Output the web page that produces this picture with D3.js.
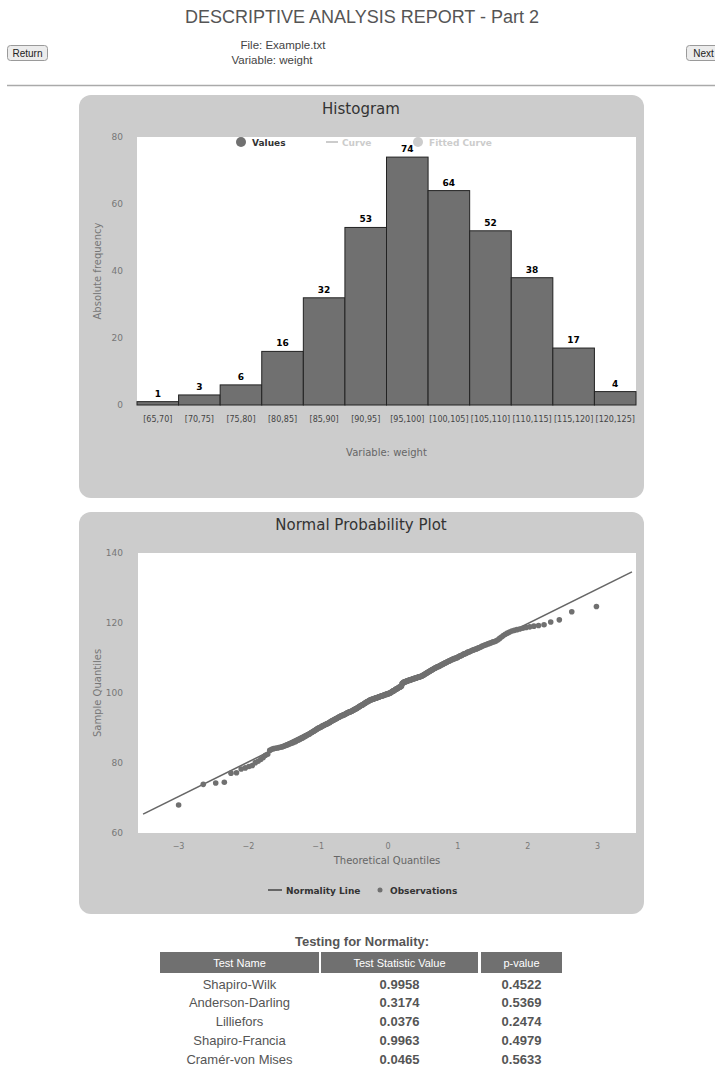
<!DOCTYPE html>
<html>
<head>
<meta charset="utf-8">
<script src="https://cdn.jsdelivr.net/npm/d3@7"></script>
<style>
  body { margin: 0; background: #fff; }
  svg text { font-family: "DejaVu Sans", sans-serif; }
  .arial { font-family: "Liberation Sans", Arial, sans-serif !important; }
</style>
</head>
<body>
<svg id="page" width="715" height="1069"></svg>
<script>
// histogram data
var binLabels = ["[65,70]", "[70,75]", "[75,80]", "[80,85]", "[85,90]", "[90,95]",
  "[95,100]", "[100,105]", "[105,110]", "[110,115]", "[115,120]", "[120,125]"];
var binCounts = [1, 3, 6, 16, 32, 53, 74, 64, 52, 38, 17, 4];
var freqTicks = [0, 20, 40, 60, 80];

// sorted sample (weight)
var sampleValues = [
  68.0,
  73.9, 74.3, 74.5,
  77.1, 77.2, 78.3, 78.6, 79.0, 79.3,
  80.1, 80.5, 81.0, 81.6, 82.2, 82.5, 83.6, 83.9, 84.1, 84.2, 84.3, 84.4, 84.5, 84.6, 84.8, 84.9,
  85.1, 85.2, 85.4, 85.5, 85.7, 85.8, 86.0, 86.1, 86.3, 86.5, 86.6, 86.8, 86.9, 87.1, 87.2, 87.4,
  87.6, 87.7, 87.9, 88.0, 88.2, 88.3, 88.5, 88.7, 88.8, 89.0, 89.1, 89.3, 89.4, 89.6, 89.7, 89.9,
  90.0, 90.1, 90.2, 90.3, 90.5, 90.6, 90.7, 90.8, 90.9, 91.0, 91.1, 91.2, 91.3, 91.4, 91.5, 91.6, 91.8,
  91.9, 92.0, 92.1, 92.2, 92.3, 92.4, 92.5, 92.6, 92.7, 92.8, 92.9, 93.0, 93.1, 93.2, 93.3, 93.4,
  93.5, 93.5, 93.6, 93.7, 93.8, 93.8, 93.9,
  94.0, 94.1, 94.2, 94.3, 94.4, 94.4, 94.5, 94.6, 94.6, 94.7, 94.8, 94.8, 94.9,
  95.0, 95.1, 95.2, 95.3, 95.4, 95.4, 95.5, 95.6, 95.7, 95.8, 95.9, 96.0, 96.1, 96.2, 96.3, 96.4,
  96.5, 96.5, 96.6, 96.7, 96.8, 96.9, 97.0, 97.1, 97.2, 97.3, 97.4, 97.5, 97.5, 97.6, 97.7, 97.8, 97.9, 98.0,
  98.0, 98.1, 98.1, 98.2, 98.2, 98.3, 98.3, 98.4, 98.4, 98.5, 98.5, 98.6, 98.6, 98.7, 98.7, 98.8,
  98.8, 98.9, 98.9, 99.0, 99.0, 99.1, 99.1, 99.2, 99.2, 99.3, 99.3, 99.4, 99.4, 99.5, 99.5, 99.6,
  99.6, 99.7, 99.7, 99.8, 99.8, 99.9, 99.9, 99.9,
  100.0, 100.1, 100.2, 100.3, 100.4, 100.5, 100.6, 100.6, 100.7, 100.8, 100.9, 101.0, 101.1, 101.2,
  101.2, 101.3, 101.4, 101.5, 101.6, 101.7, 101.7, 101.8, 101.9, 101.9,
  102.6, 102.8, 102.9, 103.0, 103.1, 103.2, 103.2, 103.3, 103.3, 103.4, 103.4, 103.5, 103.5, 103.6,
  103.6, 103.7, 103.7, 103.8, 103.8, 103.9, 103.9, 104.0, 104.0, 104.1, 104.1, 104.2, 104.2, 104.3,
  104.3, 104.4, 104.4, 104.5, 104.5, 104.6, 104.6, 104.7, 104.7, 104.8, 104.8, 104.9,
  105.0, 105.1, 105.2, 105.3, 105.4, 105.5, 105.6, 105.7, 105.8, 105.9, 106.0, 106.1, 106.2, 106.3,
  106.4, 106.5, 106.6, 106.7, 106.8, 106.9, 107.0, 107.1, 107.2, 107.3, 107.4, 107.5, 107.5, 107.6,
  107.7, 107.8, 107.9, 108.0, 108.1, 108.2, 108.3, 108.4, 108.5, 108.6, 108.7, 108.8, 108.9, 109.0,
  109.1, 109.2, 109.3, 109.4, 109.5, 109.6, 109.7, 109.8, 109.9, 109.9,
  110.0, 110.1, 110.2, 110.4, 110.5, 110.6, 110.7, 110.8, 111.0, 111.1, 111.2, 111.3, 111.4, 111.6,
  111.7, 111.8, 111.9, 112.0, 112.2, 112.3, 112.4, 112.5, 112.6, 112.8, 112.9, 113.0,
  113.2, 113.4, 113.5, 113.7, 113.8, 114.0, 114.1, 114.3, 114.4, 114.6, 114.7, 114.9,
  115.2, 115.6, 116.0, 116.4, 116.8, 117.1, 117.4, 117.7, 117.9, 118.1, 118.3, 118.5, 118.7, 118.9,
  119.1, 119.3, 119.5,
  120.3, 120.9, 123.2, 124.7
];
var qqXTicks = [-3, -2, -1, 0, 1, 2, 3];
var qqYTicks = [60, 80, 100, 120, 140];
// ends of the normality line (theoretical, sample)
var normLine = [{x: -3.5, y: 65.4}, {x: 3.5, y: 134.6}];

// normality tests table
var testNames = ["Shapiro-Wilk", "Anderson-Darling", "Lilliefors", "Shapiro-Francia", "Cramér-von Mises"];
var testStats = ["0.9958", "0.3174", "0.0376", "0.9963", "0.0465"];
var testPvalues = ["0.4522", "0.5369", "0.2474", "0.4979", "0.5633"];
var tableHeads = ["Test Name", "Test Statistic Value", "p-value"];

// inverse normal cdf (Acklam), for the theoretical quantiles
function qnorm(p) {
  var a = [-39.69683028665376, 220.9460984245205, -275.9285104469687, 138.3577518672690, -30.66479806614716, 2.506628277459239];
  var b = [-54.47609879822406, 161.5858368580409, -155.6989798598866, 66.80131188771972, -13.28068155288572];
  var c = [-0.007784894002430293, -0.3223964580411365, -2.400758277161838, -2.549732539343734, 4.374664141464968, 2.938163982698783];
  var d = [0.007784695709041462, 0.3224671290700398, 2.445134137142996, 3.754408661907416];
  var q, r;
  if (p < 0.02425) {
    q = Math.sqrt(-2 * Math.log(p));
    return (((((c[0]*q+c[1])*q+c[2])*q+c[3])*q+c[4])*q+c[5]) / ((((d[0]*q+d[1])*q+d[2])*q+d[3])*q+1);
  } else if (p > 1 - 0.02425) {
    q = Math.sqrt(-2 * Math.log(1 - p));
    return -(((((c[0]*q+c[1])*q+c[2])*q+c[3])*q+c[4])*q+c[5]) / ((((d[0]*q+d[1])*q+d[2])*q+d[3])*q+1);
  }
  q = p - 0.5; r = q * q;
  return (((((a[0]*r+a[1])*r+a[2])*r+a[3])*r+a[4])*r+a[5])*q / (((((b[0]*r+b[1])*r+b[2])*r+b[3])*r+b[4])*r+1);
}

var svg = d3.select("#page");

// ---- page header ----
svg.append("text").attr("class", "arial")
  .attr("x", 362).attr("y", 23).attr("text-anchor", "middle")
  .style("font-size", "18px").attr("fill", "#555")
  .text("DESCRIPTIVE ANALYSIS REPORT - Part 2");

function button(x, w, label) {
  svg.append("rect").attr("x", x).attr("y", 45.5).attr("width", w).attr("height", 15)
    .attr("rx", 3).attr("fill", "#ececec").attr("stroke", "#9a9a9a");
  svg.append("text").attr("class", "arial")
    .attr("x", x + w / 2).attr("y", 57).attr("text-anchor", "middle")
    .style("font-size", "10px").attr("fill", "#222").text(label);
}
button(7.5, 40, "Return");
button(686.5, 34, "Next");

svg.append("text").attr("class", "arial").attr("x", 283).attr("y", 49)
  .attr("text-anchor", "middle").style("font-size", "11.5px").attr("fill", "#444")
  .text("File: Example.txt");
svg.append("text").attr("class", "arial").attr("x", 272).attr("y", 64)
  .attr("text-anchor", "middle").style("font-size", "11.5px").attr("fill", "#444")
  .text("Variable: weight");

svg.append("line").attr("x1", 7).attr("x2", 715).attr("y1", 85.5).attr("y2", 85.5)
  .attr("stroke", "#aaa").attr("stroke-width", 1.5);

// ---- histogram ----
var hist = svg.append("g");
hist.append("rect").attr("x", 79).attr("y", 95).attr("width", 565).attr("height", 403)
  .attr("rx", 12).attr("fill", "#cccccc");
hist.append("text").attr("x", 361).attr("y", 114).attr("text-anchor", "middle")
  .style("font-size", "15px").attr("fill", "#333").text("Histogram");

var hx = d3.scaleBand().domain(binLabels).range([137, 636]).padding(0);
var hy = d3.scaleLinear().domain([0, 80]).range([405, 137]);

hist.append("rect").attr("x", 137).attr("y", 137).attr("width", 499).attr("height", 268)
  .attr("fill", "#fff");

var hyAxis = hist.append("g").attr("transform", "translate(126,0)")
  .call(d3.axisLeft(hy).tickValues(freqTicks).tickSize(0));
hyAxis.select(".domain").remove();
hyAxis.selectAll("text").attr("fill", "#777").style("font-size", "9px")
  .style("font-family", "DejaVu Sans");

var hxAxis = hist.append("g").attr("transform", "translate(0,413)")
  .call(d3.axisBottom(hx).tickSize(0));
hxAxis.select(".domain").remove();
hxAxis.selectAll("text").attr("fill", "#444").style("font-size", "8px")
  .style("font-family", "DejaVu Sans");

hist.append("text").attr("transform", "translate(101,271) rotate(-90)")
  .attr("text-anchor", "middle").style("font-size", "10px").attr("fill", "#777")
  .text("Absolute frequency");
hist.append("text").attr("x", 386.5).attr("y", 456).attr("text-anchor", "middle")
  .style("font-size", "10px").attr("fill", "#666").text("Variable: weight");

hist.selectAll(".bar").data(binCounts).enter().append("rect")
  .attr("class", "bar")
  .attr("x", function(d, i) { return hx(binLabels[i]); })
  .attr("y", function(d) { return hy(d); })
  .attr("width", hx.bandwidth())
  .attr("height", function(d) { return hy(0) - hy(d); })
  .attr("fill", "#707070").attr("stroke", "#222").attr("stroke-width", 1);

hist.selectAll(".lbl").data(binCounts).enter().append("text")
  .attr("class", "lbl")
  .attr("x", function(d, i) { return hx(binLabels[i]) + hx.bandwidth() / 2; })
  .attr("y", function(d) { return hy(d) - 5; })
  .attr("text-anchor", "middle").style("font-size", "9px").style("font-weight", "bold")
  .attr("fill", "#000").text(function(d) { return d; });

// legend
hist.append("circle").attr("cx", 241).attr("cy", 142).attr("r", 5).attr("fill", "#707070");
hist.append("text").attr("x", 252).attr("y", 145.5).style("font-size", "9px")
  .style("font-weight", "bold").attr("fill", "#333").text("Values");
hist.append("line").attr("x1", 326).attr("x2", 338).attr("y1", 142).attr("y2", 142)
  .attr("stroke", "#ccc").attr("stroke-width", 2);
hist.append("text").attr("x", 342).attr("y", 145.5).style("font-size", "9px")
  .style("font-weight", "bold").attr("fill", "#ccc").text("Curve");
hist.append("circle").attr("cx", 418).attr("cy", 142).attr("r", 5).attr("fill", "#ccc");
hist.append("text").attr("x", 429).attr("y", 145.5).style("font-size", "9px")
  .style("font-weight", "bold").attr("fill", "#ccc").text("Fitted Curve");

// ---- normal probability plot ----
var qq = svg.append("g");
qq.append("rect").attr("x", 79).attr("y", 512).attr("width", 565).attr("height", 402)
  .attr("rx", 12).attr("fill", "#cccccc");
qq.append("text").attr("x", 361).attr("y", 530).attr("text-anchor", "middle")
  .style("font-size", "15px").attr("fill", "#333").text("Normal Probability Plot");

var qx = d3.scaleLinear().domain([-3.573, 3.558]).range([138, 636]);
var qy = d3.scaleLinear().domain([60, 140]).range([833, 553]);

qq.append("rect").attr("x", 138).attr("y", 553).attr("width", 498).attr("height", 280)
  .attr("fill", "#fff");

var qyAxis = qq.append("g").attr("transform", "translate(126,0)")
  .call(d3.axisLeft(qy).tickValues(qqYTicks).tickSize(0));
qyAxis.select(".domain").remove();
qyAxis.selectAll("text").attr("fill", "#777").style("font-size", "9px")
  .style("font-family", "DejaVu Sans");

var qxAxis = qq.append("g").attr("transform", "translate(0,840)")
  .call(d3.axisBottom(qx).tickValues(qqXTicks).tickSize(0));
qxAxis.select(".domain").remove();
qxAxis.selectAll("text").attr("fill", "#777").style("font-size", "8px")
  .style("font-family", "DejaVu Sans");

qq.append("text").attr("transform", "translate(101,693) rotate(-90)")
  .attr("text-anchor", "middle").style("font-size", "10px").attr("fill", "#777")
  .text("Sample Quantiles");
qq.append("text").attr("x", 387).attr("y", 864).attr("text-anchor", "middle")
  .style("font-size", "10px").attr("fill", "#666").text("Theoretical Quantiles");

var n = sampleValues.length;
var qqPoints = sampleValues.map(function(v, i) {
  return {x: qnorm((i + 0.5) / n), y: v};
});

var lineFunc = d3.line()
  .x(function(d) { return qx(d.x); })
  .y(function(d) { return qy(d.y); });

qq.append("path").attr("d", lineFunc(normLine))
  .attr("stroke", "#666").attr("stroke-width", 1.6).attr("fill", "none");

qq.selectAll(".pt").data(qqPoints).enter().append("circle")
  .attr("class", "pt")
  .attr("cx", function(d) { return qx(d.x); })
  .attr("cy", function(d) { return qy(d.y); })
  .attr("r", 2.8).attr("fill", "#707070");

// legend
qq.append("line").attr("x1", 268).attr("x2", 282).attr("y1", 890).attr("y2", 890)
  .attr("stroke", "#666").attr("stroke-width", 2);
qq.append("text").attr("x", 286).attr("y", 893.5).style("font-size", "9px")
  .style("font-weight", "bold").attr("fill", "#333").text("Normality Line");
qq.append("circle").attr("cx", 380).attr("cy", 890).attr("r", 2.5).attr("fill", "#707070");
qq.append("text").attr("x", 390).attr("y", 893.5).style("font-size", "9px")
  .style("font-weight", "bold").attr("fill", "#333").text("Observations");

// ---- table ----
var colX = [160, 321, 481];
var colW = [159, 157, 81];
svg.append("text").attr("class", "arial").attr("x", 362).attr("y", 946)
  .attr("text-anchor", "middle").style("font-size", "13px").style("font-weight", "bold")
  .attr("fill", "#555").text("Testing for Normality:");

svg.selectAll(".th").data(tableHeads).enter().append("rect")
  .attr("class", "th")
  .attr("x", function(d, i) { return colX[i]; }).attr("y", 952)
  .attr("width", function(d, i) { return colW[i]; }).attr("height", 21)
  .attr("fill", "#707070");
svg.selectAll(".tht").data(tableHeads).enter().append("text")
  .attr("class", "tht arial")
  .attr("x", function(d, i) { return colX[i] + colW[i] / 2; }).attr("y", 966.5)
  .attr("text-anchor", "middle").style("font-size", "11px").attr("fill", "#fff")
  .text(function(d) { return d; });

var rowY = function(i) { return 988.5 + i * 18.8; };
var cols = [testNames, testStats, testPvalues];
cols.forEach(function(col, c) {
  svg.selectAll(".td" + c).data(col).enter().append("text")
    .attr("class", "td" + c + " arial")
    .attr("x", colX[c] + colW[c] / 2)
    .attr("y", function(d, i) { return rowY(i); })
    .attr("text-anchor", "middle").style("font-size", "13px")
    .style("font-weight", c === 0 ? "normal" : "bold")
    .attr("fill", "#555").text(function(d) { return d; });
});
</script>
</body>
</html>
